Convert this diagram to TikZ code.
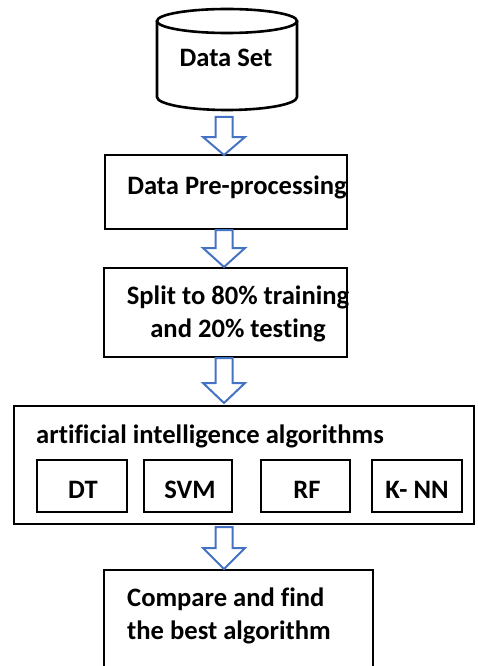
\documentclass[tikz,border=0pt]{standalone}
\usepackage{fontspec}
\setmainfont{Carlito}[RawFeature={-liga;-clig}]
\usetikzlibrary{calc}
\definecolor{arrblue}{HTML}{4472C4}
\tikzset{
  box/.style={draw=black, line width=2.6pt, fill=white, inner sep=0pt},
  txt/.style={font=\fontsize{26.6}{33}\selectfont\bfseries, inner sep=0pt, align=center},
  blockarr/.style={draw=arrblue, line width=2pt, fill=white, line join=miter},
}
\newcommand{\blockarrow}[3]{% top, headstart, tip (y values), x=224
  \draw[blockarr] (215.5,#1) -- (232.5,#1) -- (232.5,#2) -- (245,#2) -- (224,#3) -- (203,#2) -- (215.5,#2) -- cycle;}
\begin{document}
\begin{tikzpicture}[x=1pt,y=-1pt]
\useasboundingbox (0,0) rectangle (477,666);
% cylinder
\draw[line width=2.6pt, fill=white] (157,21) -- (157,97) arc[start angle=180, end angle=360, x radius=70pt, y radius=13pt] -- (297,21);
\draw[line width=2.6pt, fill=white] (227,21) ellipse [x radius=70pt, y radius=12pt];
\node[txt] (ds) at (226,58) {Data Set};
% box 1
\node[box, minimum width=242, minimum height=74] (pre) at (226,192) {};
\node[txt] (pret) at (237,187) {Data Pre-processing};
% box 2
\node[box, minimum width=243, minimum height=89] (split) at (225.5,312.5) {};
\node[txt] (splitt) at (238,314) {Split to 80\% training\\and 20\% testing};
% big box
\node[box, minimum width=460, minimum height=118] (ai) at (244,465) {};
\node[txt, anchor=west] (ait) at (36,436) {artificial intelligence algorithms};
\node[box, minimum width=90, minimum height=52] (dt) at (82,486) {};
\node[txt] at (83,490) {DT};
\node[box, minimum width=88, minimum height=52] (svm) at (188,486) {};
\node[txt] at (190,490) {SVM};
\node[box, minimum width=89, minimum height=52] (rf) at (305.5,486) {};
\node[txt] at (307,490) {RF};
\node[box, minimum width=90, minimum height=52] (knn) at (417,486) {};
\node[txt] at (417,490) {K- NN};
% bottom box (open at page bottom)
\draw[line width=2.6pt] (104,670) -- (104,570) -- (373,570) -- (373,670);
\node[txt, anchor=west, align=left] (cmp) at (127,616) {Compare and find\\the best algorithm};
% arrows
\blockarrow{117}{137}{155}
\blockarrow{230}{248}{267}
\blockarrow{358}{383}{403}
\blockarrow{527}{548}{569}
\end{tikzpicture}
\end{document}
